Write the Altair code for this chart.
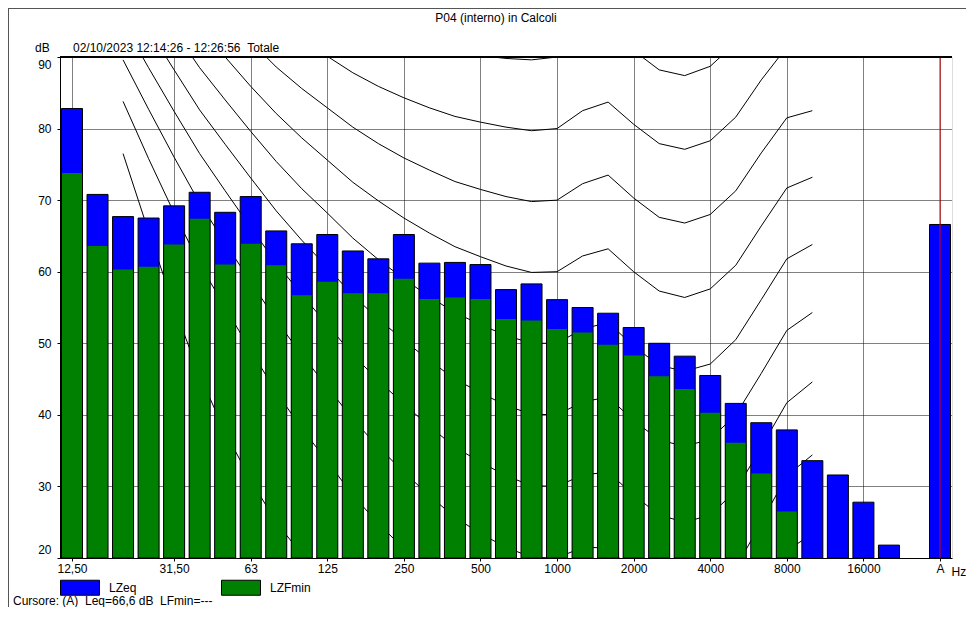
import altair as alt
import pandas as pd

# 1/3-octave bands (index 0..32), slot 33 empty, "A" at slot 34
bands = ["12.5","16","20","25","31.5","40","50","63","80","100","125","160","200","250","315","400","500",
         "630","800","1000","1250","1600","2000","2500","3150","4000","5000","6300","8000","10000","12500","16000","20000"]
lzeq = [82.8,70.8,67.7,67.5,69.2,71.1,68.3,70.5,65.7,63.9,65.2,62.9,61.8,65.2,61.2,61.3,61.0,
        57.5,58.3,56.1,55.0,54.2,52.2,50.0,48.2,45.5,41.6,38.9,37.9,33.6,31.6,27.8,21.8]
lzfmin = [73.8,63.6,60.3,60.7,63.8,67.4,61.0,63.9,60.9,56.7,58.6,57.0,57.0,59.0,56.2,56.4,56.2,
          53.4,53.2,52.0,51.5,49.8,48.3,45.4,43.6,40.3,36.1,31.8,26.5,20.1,None,None,None]
a_label = "A"
a_lzeq = 66.6

tick_idx = [0,4,7,10,13,16,19,22,25,28,31,34]
tick_lab = ["12,50","31,50","63","125","250","500","1000","2000","4000","8000","16000","A"]

# equal-loudness contours, bands 20 Hz .. 10000 Hz (band index 2..29), levels in dB
contour_first_idx = 2
iso_0 = [76.5,65.6,55.1,45.5,37.6,30.9,25.0,20.5,16.6,13.1,10.3,7.9,5.7,3.9,2.4,1.3,0.5,0.0,1.1,-0.4,-3.6,-6.6,-8.6,-8.1,-4.3,3.2,9.9,11.9]
iso_10 = [83.8,75.8,68.2,61.1,55.0,49.0,43.2,38.1,33.5,28.8,24.8,21.3,18.1,15.1,13.0,11.2,10.0,10.0,11.3,10.4,7.3,4.5,3.0,3.8,7.5,14.4,21.0,23.4]
iso_20 = [89.6,82.7,76.0,69.6,64.0,58.6,53.2,48.4,43.9,39.4,35.5,32.0,28.7,25.7,23.4,21.5,20.1,20.0,21.5,21.4,18.2,15.4,14.3,15.1,18.6,25.0,31.5,34.4]
iso_30 = [94.8,88.5,82.4,76.5,71.3,66.2,61.2,56.8,52.6,48.4,44.8,41.5,38.4,35.5,33.4,31.5,30.1,30.0,31.6,32.0,28.8,26.0,25.0,26.0,29.4,35.5,41.7,44.6]
iso_40 = [99.9,93.9,88.2,82.6,77.8,73.1,68.5,64.4,60.6,56.7,53.4,50.4,47.6,45.0,43.1,41.3,40.1,40.0,41.8,42.5,39.2,36.5,35.6,36.6,40.0,45.8,51.8,54.3]
iso_50 = [104.7,99.1,93.7,88.5,84.0,79.6,75.4,71.6,68.2,64.7,61.7,59.0,56.5,54.3,52.6,51.1,50.0,50.0,52.0,52.9,49.6,46.9,46.1,47.1,50.5,56.1,61.8,63.8]
iso_60 = [109.5,104.2,99.1,94.2,90.0,85.9,82.1,78.7,75.6,72.5,69.9,67.5,65.4,63.5,62.1,60.8,59.9,60.0,62.2,63.2,60.0,57.3,56.4,57.6,60.9,66.4,71.7,73.2]
iso_70 = [114.3,109.2,104.4,99.8,95.9,92.2,88.6,85.6,82.9,80.2,77.9,75.9,74.2,72.6,71.5,70.5,69.8,70.0,72.3,73.5,70.3,67.6,66.8,68.0,71.3,76.6,81.5,82.5]
iso_80 = [119.0,114.2,109.6,105.3,101.7,98.4,95.2,92.5,90.1,87.8,85.9,84.3,82.9,81.7,80.9,80.2,79.7,80.0,82.5,83.7,80.6,77.9,77.1,78.3,81.6,86.8,91.4,91.7]
iso_90 = [123.7,119.2,114.9,110.9,107.5,104.5,101.7,99.3,97.3,95.4,93.9,92.6,91.6,90.8,90.2,89.8,89.6,90.0,92.6,94.0,90.9,88.2,87.4,88.7,92.0,97.0,101.3,101.0]
contours = {0: iso_0, 10: iso_10, 20: iso_20, 30: iso_30, 40: iso_40,
            50: iso_50, 60: iso_60, 70: iso_70, 80: iso_80, 90: iso_90}

W, H = 892, 501
FONT = "Liberation Sans"

rows = []
for i, b in enumerate(bands):
    rows.append({"idx": i, "band": b, "lzeq": lzeq[i], "lzfmin": lzfmin[i]})
rows.append({"idx": 34, "band": a_label, "lzeq": a_lzeq, "lzfmin": None})
bars = pd.DataFrame(rows)

crow = []
for p, vals in contours.items():
    for j, v in enumerate(vals):
        crow.append({"phon": p, "idx": j + contour_first_idx, "level": v})
cdf = pd.DataFrame(crow)

lab_expr = ""
for t, l in zip(tick_idx, tick_lab):
    lab_expr += f"datum.value == {t} ? '{l}' : "
lab_expr += "''"

xs = alt.Scale(domain=[-0.47, 34.47], nice=False, zero=False, padding=0)
ys = alt.Scale(domain=[20, 90], nice=False, zero=False, padding=0)

xaxis = alt.Axis(values=tick_idx, labelExpr=lab_expr, grid=True, gridDash=[1, 1], gridColor="#000",
                 gridOpacity=1, domainColor="#000", tickColor="#000", tickSize=3, labelPadding=2,
                 labelFont=FONT, labelFontSize=12, labelColor="#000", title=None)
yaxis = alt.Axis(values=list(range(20, 91, 10)), grid=True, gridDash=[1, 1], gridColor="#000",
                 gridOpacity=1, domainColor="#000", tickColor="#000", tickSize=3, labelPadding=6,
                 labelFlush=True, labelFlushOffset=-2, labelFont=FONT, labelFontSize=12,
                 labelColor="#000", title=None)

base = alt.Chart(bars)

grid = base.mark_point(opacity=0).encode(
    x=alt.X("idx:Q", scale=xs, axis=xaxis),
    y=alt.Y("lzeq:Q", scale=ys, axis=yaxis),
)

lines = alt.Chart(cdf).mark_line(color="#000", strokeWidth=1, clip=True).encode(
    x=alt.X("idx:Q", scale=xs),
    y=alt.Y("level:Q", scale=ys),
    detail="phon:N",
)

legend = alt.Legend(orient="none", legendX=0, legendY=510.5, direction="horizontal", title=None,
                    symbolType="M-1,-0.385L1,-0.385L1,0.385L-1,0.385Z", symbolSize=1521,
                    symbolStrokeColor="#000", symbolStrokeWidth=1, symbolOpacity=1,
                    labelFont=FONT, labelFontSize=12, labelColor="#000", labelOffset=9,
                    columnPadding=82)
cscale = alt.Scale(domain=["LZeq", "LZFmin"], range=["#0000ff", "#008000"])

blue = base.mark_bar(size=21, clip=True).transform_calculate(series="'LZeq'").encode(
    x=alt.X("idx:Q", scale=xs),
    y=alt.Y("lzeq:Q", scale=ys),
    y2=alt.datum(20),
    color=alt.Color("series:N", scale=cscale, legend=legend),
)
green = base.mark_bar(size=21, clip=True).transform_filter("isValid(datum.lzfmin)").transform_calculate(
    series="'LZFmin'").encode(
    x=alt.X("idx:Q", scale=xs),
    y=alt.Y("lzfmin:Q", scale=ys),
    y2=alt.datum(20),
    color=alt.Color("series:N", scale=cscale, legend=legend),
)
outline = base.mark_bar(size=21, clip=True, fillOpacity=0, stroke="#000", strokeWidth=1).encode(
    x=alt.X("idx:Q", scale=xs),
    y=alt.Y("lzeq:Q", scale=ys),
    y2=alt.datum(20),
)

one = pd.DataFrame({"a": [0]})
cursor = alt.Chart(one).mark_rule(color="#e00000", strokeWidth=1).encode(
    x=alt.datum(34), y=alt.datum(90), y2=alt.datum(20))
topline = alt.Chart(one).mark_rule(color="#000", strokeWidth=2).encode(
    x=alt.value(0), x2=alt.value(W), y=alt.value(0))
frame_top = alt.Chart(one).mark_rule(color="#555", strokeWidth=1).encode(
    x=alt.value(-52), x2=alt.value(906), y=alt.value(-48.5))
frame_left = alt.Chart(one).mark_rule(color="#555", strokeWidth=1).encode(
    x=alt.value(-51.5), y=alt.value(-49), y2=alt.value(550))

def txt(s, x, y, align="left"):
    return alt.Chart(one).mark_text(text=s, align=align, baseline="middle", font=FONT, fontSize=12,
                                    color="#000").encode(x=alt.value(x), y=alt.value(y))

texts = [
    txt("P04 (interno) in Calcoli", 436, -39.5, "center"),
    txt("02/10/2023 12:14:26 - 12:26:56\u00a0\u00a0Totale", 13, -9.5),
    txt("dB", -25, -9.5),
    txt("Hz", 891.5, 515),
    txt("Cursore: (A)\u00a0\u00a0Leq=66,6 dB\u00a0\u00a0LFmin=---", -47, 543.5),
]

chart = alt.layer(grid, lines, blue, green, outline, cursor, topline, frame_top, frame_left, *texts).properties(
    width=W, height=H,
    autosize=alt.AutoSizeParams(type="none"),
    padding={"left": 52, "top": 49, "right": 14, "bottom": 49},
).configure_view(stroke="#000", strokeWidth=1).configure(background="white")

chart.save("out.html", embed_options={"renderer": "svg", "actions": False})
